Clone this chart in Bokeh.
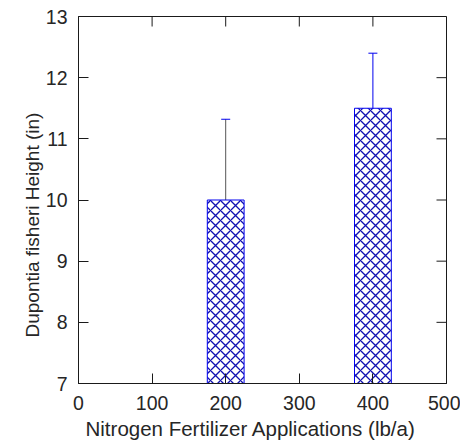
import math
from bokeh.plotting import figure
from bokeh.models import (ColumnDataSource, Whisker, TeeHead, LinearAxis, Title,
                          Range1d, FixedTicker)
from bokeh.embed import file_html
from bokeh.resources import INLINE

# ---- data ----
nitrogen = [0, 100, 200, 400]
height_mean = [7.0, 7.0, 10.0, 11.5]
err_x = [200, 400]
err_low = [8.67, 10.58]
err_high = [11.32, 12.4]
err_stem_color = ["#555555", "#0000ee"]
x_ticks = [0, 100, 200, 300, 400, 500]
y_ticks = [7, 8, 9, 10, 11, 12, 13]
x_min, x_max = 0, 500
y_min, y_max = 7, 13
x_title = "Nitrogen Fertilizer Applications (lb/a)"
y_title = "Dupontia fisheri Height (in)"

FONT = "Liberation Sans"
TXT = "#262626"
FRAME = "#1a1a1a"

p = figure(frame_width=368, frame_height=367,
           x_range=Range1d(x_min, x_max), y_range=Range1d(y_min, y_max),
           output_backend="svg", toolbar_location=None,
           x_axis_location=None, y_axis_location=None,
           min_border_left=78, min_border_right=14, min_border_top=16,
           min_border_bottom=10)
p.grid.visible = False
p.outline_line_color = FRAME
p.background_fill_color = "white"
p.border_fill_color = "white"

def make_axis(ticks, standoff):
    ax = LinearAxis(ticker=FixedTicker(ticks=ticks))
    ax.major_tick_in = 10
    ax.major_tick_out = 0
    ax.minor_tick_line_color = None
    ax.major_tick_line_color = FRAME
    ax.axis_line_color = FRAME
    ax.major_label_standoff = standoff
    ax.major_label_text_font = FONT
    ax.major_label_text_color = TXT
    ax.major_label_text_font_size = "19.5px"
    return ax

p.add_layout(make_axis(x_ticks, 12), "below")
p.add_layout(make_axis(y_ticks, 11), "left")

# mirrored inward ticks on top and right edges
p.ray(x=x_ticks, y=[y_max] * len(x_ticks), length=10, length_units="screen",
      angle=-math.pi / 2, line_color=FRAME, line_width=1)
p.ray(x=[x_max] * len(y_ticks), y=y_ticks, length=10, length_units="screen",
      angle=math.pi, line_color=FRAME, line_width=1)

p.add_layout(Title(text=x_title, align="left", offset=7, text_font=FONT,
                   text_font_style="normal", text_font_size="20.5px",
                   text_color=TXT, standoff=5), "below")
p.add_layout(Title(text=y_title, align="left", offset=46, text_font=FONT,
                   text_font_style="normal", text_font_size="19px",
                   text_color=TXT, standoff=0), "left")

bars = ColumnDataSource(dict(x=nitrogen, top=height_mean))
p.vbar(x="x", top="top", bottom=0, width=50, source=bars,
       fill_color="white", line_color="#0000ee", line_width=1,
       hatch_pattern="diagonal_cross", hatch_color="#1010b0",
       hatch_scale=10, hatch_weight=1.3)

errs = ColumnDataSource(dict(base=err_x, lower=err_low, upper=err_high,
                             c=err_stem_color))
w = Whisker(base="base", lower="lower", upper="upper", source=errs,
            line_color="c", line_width=1,
            upper_head=TeeHead(size=9, line_color="#0000ee", line_width=1),
            lower_head=TeeHead(size=9, line_color="#0000ee", line_width=1))
p.add_layout(w)

open("out.html", "w").write(file_html(p, INLINE))
